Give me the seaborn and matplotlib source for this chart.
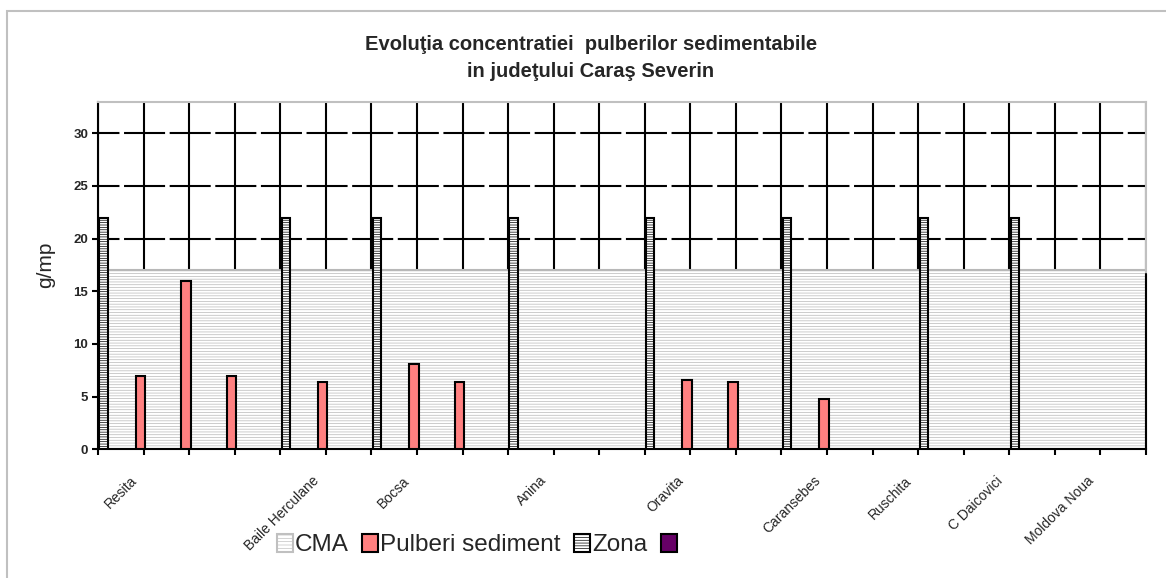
import numpy as np
import pandas as pd
import matplotlib
matplotlib.use("Agg")
import matplotlib.pyplot as plt
from matplotlib.patches import Patch, Rectangle
import seaborn as sns

# slots along the category axis (Excel "on tick marks" layout)
slots = list(range(24))
slot_labels = ["", "Resita", "", "", "", "Baile Herculane", "", "Bocsa", "", "",
               "Anina", "", "", "Oravita", "", "", "Caransebes", "", "Ruschita", "",
               "C Daicovici", "", "Moldova Noua", ""]
pulberi = [np.nan, 7.0, 16.0, 7.0, np.nan, 6.4, np.nan, 8.1, 6.4, np.nan,
           np.nan, np.nan, np.nan, 6.6, 6.4, np.nan, 4.8, np.nan, np.nan, np.nan,
           np.nan, np.nan, np.nan, np.nan]
zona = [22, np.nan, np.nan, np.nan, 22, np.nan, 22, np.nan, np.nan, 22,
        np.nan, np.nan, 22, np.nan, np.nan, 22, np.nan, np.nan, 22, np.nan,
        22, np.nan, np.nan, np.nan]
cma = [17, 17, 17, 17, 17, 17, 17, 17, 17, 17, 17, 17,
       17, 17, 17, 17, 17, 17, 17, 17, 17, 17, 17, 17]
yticks = [0, 5, 10, 15, 20, 25, 30]
legend_labels = ["CMA", "Pulberi sediment", "Zona", ""]

sns.set_theme(style="white")
plt.rcParams["font.family"] = ["Liberation Sans", "DejaVu Sans"]
plt.rcParams["hatch.linewidth"] = 0.5

W, H = 1166, 578
fig = plt.figure(figsize=(W / 100, H / 100), dpi=100)
ax = fig.add_axes([98 / W, 1 - 449.3 / H, 1048 / W, 347.6 / H])

pul_off, zona_off, label_off = -0.07, 0.12, -0.2
df_p = pd.DataFrame({"x": np.array(slots) + pul_off, "v": pulberi})
df_z = pd.DataFrame({"x": np.array(slots) + zona_off, "v": zona})

# CMA as a hatched area behind everything
ax.fill_between(slots, 0, cma, facecolor="white", edgecolor="#b8b8b8",
                hatch="------", linewidth=1.5, zorder=1)

sns.barplot(data=df_p, x="x", y="v", native_scale=True, width=0.21,
            color="#FF8080", saturation=1, edgecolor="black", linewidth=1.5,
            errorbar=None, ax=ax, zorder=3)
sns.barplot(data=df_z, x="x", y="v", native_scale=True, width=0.18,
            color="white", saturation=1, edgecolor="black", linewidth=1.5,
            hatch="-------", errorbar=None, ax=ax, zorder=3)

# tick marks + gridlines on the slots, labels slightly to the left (Excel look)
ax.set_xticks(slots)
ax.set_xticklabels([])
ax.set_xticks(np.array(slots) + label_off, minor=True)
ax.set_xticklabels(slot_labels, minor=True, rotation=45, ha="right",
                   va="center", rotation_mode="anchor", fontsize=10)
ax.set_xlim(slots[0], slots[-1])
ax.set_ylim(0, 33)
ax.set_yticks(yticks)
ax.set_yticklabels([str(t) for t in yticks], fontsize=9.5, fontweight="bold")
ax.set_ylim(0, 33)
ax.tick_params(axis="both", which="major", direction="out", length=4,
               width=1.5, color="black", bottom=True, left=True, pad=3)
ax.tick_params(axis="x", which="minor", length=0, pad=21, bottom=True)
ax.set_xlabel("")
ax.set_ylabel("g/mp", fontsize=15)
ax.yaxis.set_label_coords(-0.041, 0.53)

ax.set_axisbelow(True)
ax.xaxis.grid(True, which="major", color="black", linewidth=1.5, linestyle="-")
ax.yaxis.grid(True, which="major", color="black", linewidth=1.5,
              linestyle=(9.4, (19.7, 2.2)))

for s in ["left", "bottom"]:
    ax.spines[s].set_color("black")
    ax.spines[s].set_linewidth(1.5)
for s in ["top", "right"]:
    ax.spines[s].set_color("#c0c0c0")
    ax.spines[s].set_linewidth(1.5)
ax.plot([slots[-1], slots[-1]], [0, cma[-1] - 0.4], color="black",
        linewidth=1.5, zorder=4, clip_on=False)

fig.text(591 / W, 1 - 58 / H,
         "Evoluţia concentratiei  pulberilor sedimentabile\nin judeţului Caraş Severin",
         ha="center", va="center", fontsize=14.5, fontweight="bold", linespacing=1.5)

handles = [
    Patch(facecolor="white", edgecolor="#c0c0c0", hatch="-----", linewidth=1.5),
    Patch(facecolor="#FF8080", edgecolor="black", linewidth=1.5),
    Patch(facecolor="white", edgecolor="black", hatch="------", linewidth=1.5),
    Patch(facecolor="#660066", edgecolor="black", linewidth=1.5),
]
fig.legend(handles, legend_labels, loc="center", ncol=4, frameon=False,
           bbox_to_anchor=(478 / W, 1 - 545 / H), fontsize=17.5,
           handlelength=0.65, handleheight=0.8, handletextpad=0.1,
           columnspacing=0.55)

fig.patches.append(Rectangle((7 / W, -0.1), 1.2, 1.1 - 11 / H,
                             transform=fig.transFigure, fill=False,
                             edgecolor="#c0c0c0", linewidth=1.5))

fig.savefig("out.png", dpi=100)
